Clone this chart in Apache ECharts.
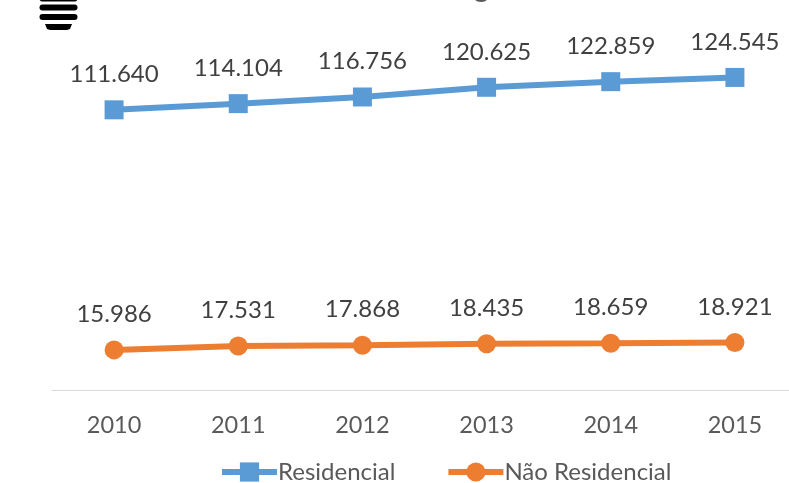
<!DOCTYPE html>
<html><head><meta charset="utf-8">
<script src="https://cdn.jsdelivr.net/npm/echarts@6/dist/echarts.min.js"></script>
<style>html,body{margin:0;padding:0;background:#fff}#c{width:789px;height:483px}</style>
</head><body><div id="c"></div>
<script>
const categories=['2010','2011','2012','2013','2014','2015'];
const residencial=[111640,114104,116756,120625,122859,124545];
const naoResidencial=[15986,17531,17868,18435,18659,18921];
const font='Lato,"Open Sans",sans-serif';
const fmt=p=>p.value.toLocaleString('de-DE');
const chart=echarts.init(document.getElementById('c'));
const bar=(y,h)=>({type:'rect',shape:{x:39.5,y:y,width:38,height:h,r:h/2},style:{fill:'#000'},silent:true});
chart.setOption({
 animation:false,
 grid:{left:52,top:0,width:745,height:390,outerBoundsMode:'none'},
 graphic:[bar(-4.5,6),bar(4.5,6),bar(14,6),
  {type:'polygon',shape:{points:[[45,24],[72,24],[70,29],[67,30],[50,30],[47,29]]},style:{fill:'#000'},silent:true},
  {type:'ellipse',shape:{cx:481,cy:-1,rx:6,ry:3},style:{fill:'#595959'},silent:true}],
 legend:{top:460,left:219,padding:0,itemGap:50,itemWidth:55,itemHeight:24,
  lineStyle:{width:6},
  textStyle:{fontFamily:font,fontSize:24,color:'#595959',padding:[0,0,0,-4]}},
 xAxis:{type:'category',data:categories,
  axisLine:{lineStyle:{color:'#d9d9d9',width:1}},axisTick:{show:false},
  axisLabel:{fontFamily:font,fontSize:23.5,color:'#595959',margin:23}},
 yAxis:{type:'value',min:0,max:155400,show:false,splitLine:{show:false}},
 series:[
 {name:'Residencial',type:'line',data:residencial,symbol:'rect',symbolSize:19,
  itemStyle:{color:'#5b9bd5'},lineStyle:{color:'#5b9bd5',width:6},
  label:{show:true,position:'top',distance:14,formatter:fmt,fontFamily:font,fontSize:24,color:'#404040'}},
 {name:'Não Residencial',type:'line',data:naoResidencial,symbol:'circle',symbolSize:19,
  itemStyle:{color:'#ed7d31'},lineStyle:{color:'#ed7d31',width:6},
  label:{show:true,position:'top',distance:14,formatter:fmt,fontFamily:font,fontSize:24,color:'#404040'}}
 ]
});
</script></body></html>
